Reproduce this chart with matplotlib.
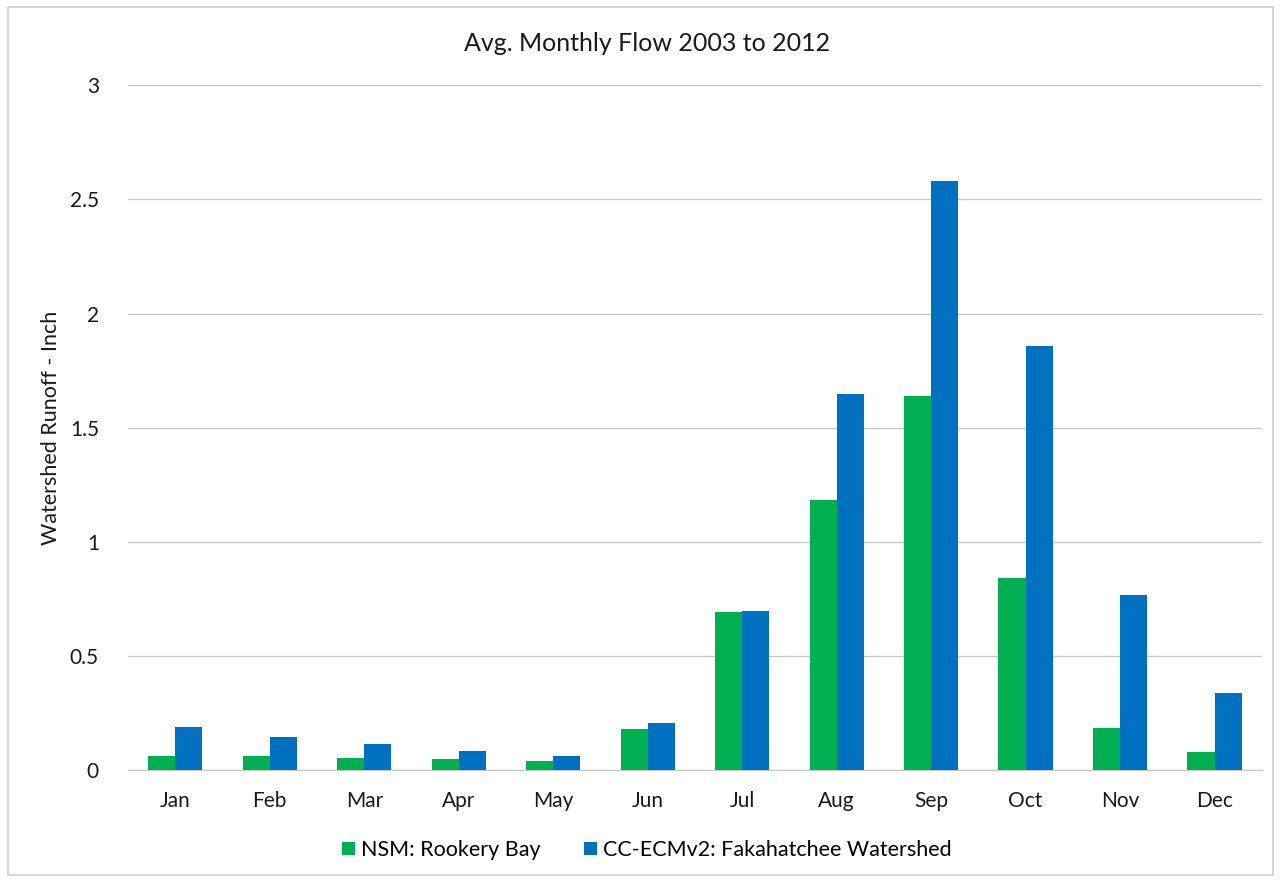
import numpy as np
import matplotlib
matplotlib.use('Agg')
import matplotlib.pyplot as plt
from matplotlib.patches import Rectangle

plt.rcParams['font.family'] = ['Lato', 'DejaVu Sans']

## data #################################
months = ['Jan', 'Feb', 'Mar', 'Apr', 'May', 'Jun',
          'Jul', 'Aug', 'Sep', 'Oct', 'Nov', 'Dec']
nsm = [0.063, 0.06, 0.054, 0.05, 0.041, 0.181,
       0.693, 1.185, 1.637, 0.84, 0.185, 0.08]
ccecm = [0.19, 0.146, 0.115, 0.085, 0.06, 0.206,
         0.697, 1.649, 2.579, 1.86, 0.767, 0.338]
yticks = [0, 0.5, 1, 1.5, 2, 2.5, 3]
ytick_labels = ['0', '0.5', '1', '1.5', '2', '2.5', '3']

green = '#00B050'
blue = '#0070C0'

fig = plt.figure(figsize=(12.81, 8.8), dpi=100)
ax = fig.add_axes([0.1, 0.125, 0.885, 0.778])

x = np.arange(len(months))
w = 0.287
ax.bar(x - w/2, nsm, w, color=green, label='NSM: Rookery Bay', zorder=3)
ax.bar(x + w/2, ccecm, w, color=blue, label='CC-ECMv2: Fakahatchee Watershed', zorder=3)

ax.set_xlim(-0.5, len(months) - 0.5)
ax.set_ylim(0, 3)
ax.set_xticks(x)
ax.set_xticklabels(months, fontsize=15)
ax.set_yticks(yticks)
ax.set_yticklabels(ytick_labels, fontsize=15)
ax.tick_params(length=0, colors='#1a1a1a')
ax.tick_params(axis='x', pad=15)
ax.tick_params(axis='y', pad=21)
ax.grid(axis='y', color='#c8c8c8', lw=1, zorder=0)
for s in ['top', 'right', 'left']:
    ax.spines[s].set_visible(False)
ax.spines['bottom'].set_color('#c8c8c8')

ax.set_ylabel('Watershed Runoff - Inch', fontsize=15.5, labelpad=6, color='#1a1a1a')
fig.text(0.505, 0.951, 'Avg. Monthly Flow 2003 to 2012', ha='center', va='center',
         fontsize=18, color='#1a1a1a')

fig.legend(loc='center', bbox_to_anchor=(0.505, 0.034), ncol=2, frameon=False,
           fontsize=15.5, handlelength=0.6, handleheight=0.6, handletextpad=0.3,
           columnspacing=2.0)

fig.patches.append(Rectangle((0.006, 0.006), 0.988, 0.986, transform=fig.transFigure,
                             fill=False, edgecolor='#d0d0d0', lw=1.2))

fig.savefig('out.png', dpi=100)
